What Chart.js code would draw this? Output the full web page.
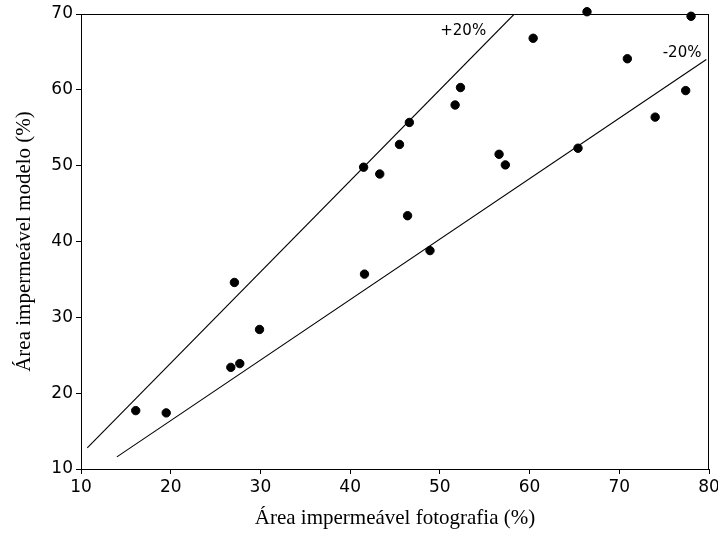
<!DOCTYPE html>
<html>
<head>
<meta charset="utf-8">
<script src="https://cdn.jsdelivr.net/npm/chart.js@4/dist/chart.umd.min.js"></script>
<style>
  body { margin: 0; background: #fff; }
  #wrap { width: 718px; height: 533px; }
</style>
</head>
<body>
<div id="wrap"><canvas id="chart" width="718" height="533"></canvas></div>
<script>
// Área impermeável: fotografia (x) vs modelo (y), values in %
const photoArea = [16.1, 19.5, 26.7, 27.7, 27.1, 29.9, 41.6, 41.5, 43.3, 45.5, 46.6, 46.4,
                   48.9, 51.7, 52.3, 56.6, 57.3, 60.4, 65.4, 66.4, 70.9, 74.0, 77.4, 78.0];
const modelArea = [17.7, 17.4, 23.4, 23.9, 34.6, 28.4, 35.7, 49.8, 48.9, 52.8, 55.7, 43.4,
                   38.8, 58.0, 60.3, 51.5, 50.1, 66.8, 52.3, 70.3, 64.1, 56.4, 59.9, 69.7];

// +20% / -20% reference lines (end points)
const plusLineX = [10.7, 58.3];
const plusLineY = [12.8, 70.0];
const minusLineX = [14.0, 79.7];
const minusLineY = [11.6, 64.0];

const xTicks = [10, 20, 30, 40, 50, 60, 70, 80];
const yTicks = [10, 20, 30, 40, 50, 60, 70];

const toXY = (xs, ys) => xs.map((x, i) => ({ x: x, y: ys[i] }));

// box around the plot + line labels
const framePlugin = {
    id: 'frame',
    afterDatasetsDraw(chart, args, opts) {
        const { ctx, chartArea, scales } = chart;
        ctx.save();
        ctx.strokeStyle = '#000';
        ctx.lineWidth = 1;
        ctx.strokeRect(chartArea.left + 0.5, chartArea.top + 0.5,
                       chartArea.right - chartArea.left - 1, chartArea.bottom - chartArea.top);
        ctx.fillStyle = '#000';
        ctx.font = "15px 'DejaVu Sans'";
        ctx.textAlign = 'center';
        ctx.textBaseline = 'middle';
        opts.labels.forEach(l => {
            ctx.fillText(l.text, scales.x.getPixelForValue(l.x), scales.y.getPixelForValue(l.y));
        });
        ctx.restore();
    }
};

new Chart(document.getElementById('chart'), {
    type: 'scatter',
    data: {
        datasets: [{
            data: toXY(photoArea, modelArea),
            backgroundColor: '#000',
            borderColor: '#000',
            pointRadius: 4.2,
            pointHoverRadius: 4.2,
            clip: false
        }, {
            data: toXY(plusLineX, plusLineY),
            showLine: true,
            borderColor: '#000',
            borderWidth: 1.1,
            pointRadius: 0
        }, {
            data: toXY(minusLineX, minusLineY),
            showLine: true,
            borderColor: '#000',
            borderWidth: 1.1,
            pointRadius: 0
        }]
    },
    options: {
        responsive: false,
        animation: false,
        layout: { padding: { left: 0, top: 14, right: 9, bottom: 0 } },
        plugins: {
            legend: { display: false },
            tooltip: { enabled: false },
            frame: {
                labels: [
                    { text: '+20%', x: 52.6, y: 67.8 },
                    { text: '-20%', x: 77.0, y: 64.8 }
                ]
            }
        },
        scales: {
            x: {
                type: 'linear',
                min: 10, max: 80,
                afterFit: s => { s.height = 64; s.paddingLeft = 0; s.paddingRight = 0; },
                afterBuildTicks: s => { s.ticks = xTicks.map(v => ({ value: v })); },
                border: { color: '#000', width: 1 },
                grid: { display: true, drawOnChartArea: false, tickLength: 5, color: '#000' },
                ticks: { color: '#000', padding: 3, maxRotation: 0, font: { family: 'DejaVu Sans', size: 17 } },
                title: {
                    display: true,
                    text: 'Área impermeável fotografia (%)',
                    color: '#000',
                    font: { family: 'Liberation Serif', size: 21 },
                    padding: { top: 0, bottom: 2 }
                }
            },
            y: {
                type: 'linear',
                min: 10, max: 70,
                afterFit: s => { s.width = 81; s.paddingTop = 0; s.paddingBottom = 0; },
                afterBuildTicks: s => { s.ticks = yTicks.map(v => ({ value: v })); },
                border: { color: '#000', width: 1 },
                grid: { display: true, drawOnChartArea: false, tickLength: 5, color: '#000' },
                ticks: { color: '#000', padding: 3, font: { family: 'DejaVu Sans', size: 17 } },
                title: {
                    display: true,
                    text: 'Área impermeável modelo (%)',
                    color: '#000',
                    font: { family: 'Liberation Serif', size: 21 },
                    padding: { top: 12, bottom: 0 }
                }
            }
        }
    },
    plugins: [framePlugin]
});
</script>
</body>
</html>
